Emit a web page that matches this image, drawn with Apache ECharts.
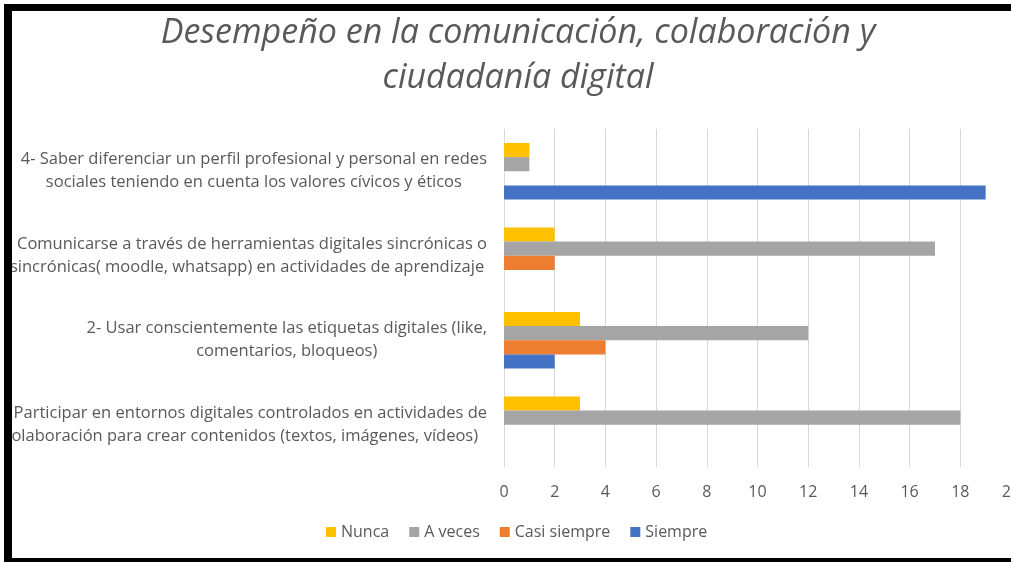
<!DOCTYPE html>
<html>
<head>
<meta charset="utf-8">
<script src="https://cdn.jsdelivr.net/npm/echarts@6/dist/echarts.min.js"></script>
<style>
  html, body { margin: 0; padding: 0; background: #fff; overflow: hidden; }
  #chart { width: 1011px; height: 562px; }
</style>
</head>
<body>
<div id="chart"></div>
<script>
// categories, bottom to top (as in the picture)
var categories = [
	"1- Participar en entornos digitales controlados en actividades de\ncolaboración para crear contenidos (textos, imágenes, vídeos)",
	"2- Usar conscientemente las etiquetas digitales (like,\ncomentarios, bloqueos)",
	"3- Comunicarse a través de herramientas digitales sincrónicas o\nasincrónicas( moodle, whatsapp) en actividades de aprendizaje",
	"4- Saber diferenciar un perfil profesional y personal en redes\nsociales teniendo en cuenta los valores cívicos y éticos"
]
var nunca = [3, 3, 2, 1]
var aVeces = [18, 12, 17, 1]
var casiSiempre = [0, 4, 2, 0]
var siempre = [0, 2, 0, 19]
var xTicks = [0, 2, 4, 6, 8, 10, 12, 14, 16, 18, 20]

var grey = "#595959"
var font = "'Open Sans', 'Liberation Sans', sans-serif"

var myChart = echarts.init(document.getElementById("chart"))

// one bar series per answer
function barSeries(name, data, color) {
	return {
		name: name,
		type: "bar",
		data: data,
		barGap: "0%",
		barCategoryGap: "33%",
		itemStyle: { color: color },
		emphasis: { disabled: true }
	}
}

var option = {
	backgroundColor: "#ffffff",
	animation: false,
	title: {
		text: "Desempeño en la comunicación, colaboración y\nciudadanía digital",
		left: 518,
		top: 11,
		padding: 0,
		textAlign: "center",
		textStyle: {
			fontFamily: font,
			fontStyle: "italic",
			fontWeight: "normal",
			fontSize: 34,
			lineHeight: 45,
			color: grey
		}
	},
	legend: {
		left: 326,
		top: 524,
		padding: 0,
		icon: "rect",
		itemWidth: 10,
		itemHeight: 10,
		itemGap: 20,
		textStyle: { fontFamily: font, fontSize: 16, color: grey },
		data: ["Nunca", "A veces", "Casi siempre", "Siempre"]
	},
	grid: {
		left: 504,
		right: 0,
		top: 129,
		bottom: 95,
		outerBoundsMode: "none"
	},
	xAxis: {
		type: "value",
		min: xTicks[0],
		max: xTicks[xTicks.length - 1],
		interval: xTicks[1] - xTicks[0],
		axisLine: { show: false },
		axisTick: { show: false },
		splitLine: { lineStyle: { color: "#d9d9d9", width: 1 } },
		axisLabel: {
			margin: 17,
			fontFamily: font,
			fontSize: 16,
			color: grey
		}
	},
	yAxis: {
		type: "category",
		data: categories,
		axisLine: { show: false },
		axisTick: { show: false },
		axisLabel: {
			margin: 17,
			align: "right",
			formatter: function(value) {
				// center each line inside the right-aligned block
				return value
					.split("\n")
					.map(function(l) {
						return "{c|" + l + "}"
					})
					.join("\n")
			},
			rich: {
				c: {
					align: "center",
					fontFamily: font,
					fontSize: 16.5,
					lineHeight: 23,
					color: grey
				}
			}
		}
	},
	// frame of the screenshot (white margin + black bars)
	graphic: [
		{ type: "rect", z: 100, shape: { x: 0, y: 0, width: 4, height: 562 }, style: { fill: "#fff" } },
		{ type: "rect", z: 100, shape: { x: 0, y: 0, width: 1011, height: 4 }, style: { fill: "#fff" } },
		{ type: "rect", z: 101, shape: { x: 4, y: 4, width: 1010, height: 7 }, style: { fill: "#000" } },
		{ type: "rect", z: 101, shape: { x: 4, y: 4, width: 8, height: 560 }, style: { fill: "#000" } },
		{ type: "rect", z: 101, shape: { x: 4, y: 558, width: 1010, height: 6 }, style: { fill: "#000" } }
	],
	series: [
		barSeries("Nunca", nunca, "#FFC000"),
		barSeries("A veces", aVeces, "#A5A5A5"),
		barSeries("Casi siempre", casiSiempre, "#ED7D31"),
		barSeries("Siempre", siempre, "#4472C4")
	]
}

myChart.setOption(option)
</script>
</body>
</html>
